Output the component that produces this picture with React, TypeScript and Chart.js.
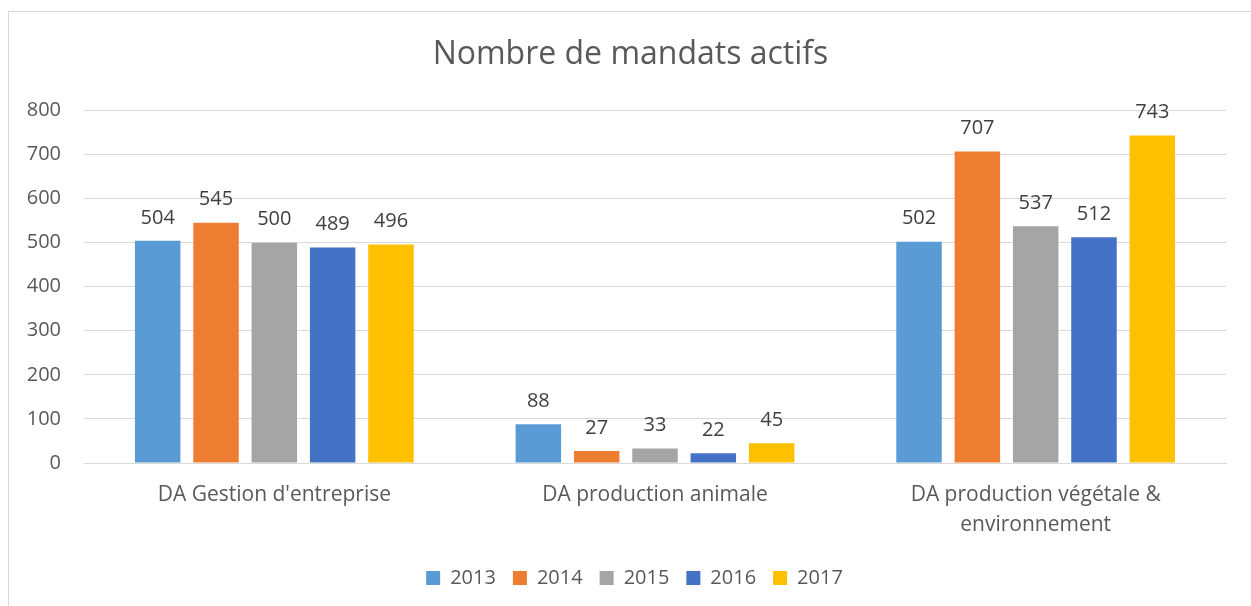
import React, { useEffect, useRef } from "react";
import { Chart, registerables } from "chart.js";

Chart.register(...registerables);

const categories: (string | string[])[] = [
  "DA Gestion d'entreprise",
  "DA production animale",
  ["DA production végétale &", "environnement"],
];
const years = ["2013", "2014", "2015", "2016", "2017"];
const values2013 = [504, 88, 502];
const values2014 = [545, 27, 707];
const values2015 = [500, 33, 537];
const values2016 = [489, 22, 512];
const values2017 = [496, 45, 743];
const seriesValues = [values2013, values2014, values2015, values2016, values2017];
const seriesColors = ["#5B9BD5", "#ED7D31", "#A5A5A5", "#4472C4", "#FFC000"];
const yMin = 0;
const yMax = 800;
const yStep = 100;
const titleText = "Nombre de mandats actifs";

const FONT = "'Open Sans', Lato, sans-serif";

const dataLabelPlugin = {
  id: "dataLabels",
  afterDatasetsDraw(chart: any) {
    const ctx = chart.ctx;
    ctx.save();
    ctx.font = `20px ${FONT}`;
    ctx.fillStyle = "#404040";
    ctx.textAlign = "center";
    ctx.textBaseline = "middle";
    chart.data.datasets.forEach((ds: any, i: number) => {
      const meta = chart.getDatasetMeta(i);
      meta.data.forEach((el: any, j: number) => {
        ctx.fillText(String(ds.data[j]), el.x, el.y - 23);
      });
    });
    ctx.restore();
  },
};

const shiftPlugin = {
  id: "shiftBoxes",
  beforeInit(chart: any) {
    const legend = chart.legend;
    if (legend) {
      const origFit = legend.fit;
      legend.fit = function () {
        origFit.call(this);
        this.height = 55;
      };
    }
  },
  afterLayout(chart: any) {
    const dl = 17;
    if (chart.legend) {
      chart.legend.left += dl;
      chart.legend.right += dl;
    }
    const dt = 13;
    if (chart.titleBlock) {
      chart.titleBlock.left += dt;
      chart.titleBlock.right += dt;
    }
  },
};

export default function App() {
  const ref = useRef<HTMLCanvasElement | null>(null);

  useEffect(() => {
    if (!ref.current) return;
    Chart.defaults.font.family = FONT;
    const chart = new Chart(ref.current, {
      type: "bar",
      data: {
        labels: categories,
        datasets: years.map((y, i) => ({
          label: y,
          data: seriesValues[i],
          backgroundColor: seriesColors[i],
          borderWidth: 0,
          barPercentage: 0.78,
          categoryPercentage: 0.766,
        })),
      },
      options: {
        responsive: false,
        animation: false,
        layout: { padding: { left: 0, right: 25, top: 0, bottom: 0 } },
        plugins: {
          title: {
            display: true,
            text: titleText,
            color: "#595959",
            font: { size: 32, weight: "normal", family: FONT },
            padding: { top: 24, bottom: 36 },
          },
          legend: {
            position: "bottom",
            labels: {
              color: "#595959",
              font: { size: 20, family: FONT },
              boxWidth: 14,
              boxHeight: 14,
              padding: 17,
            },
          },
          tooltip: { enabled: false },
        },
        scales: {
          x: {
            grid: { display: false, drawTicks: false },
            border: { display: true, color: "#d9d9d9" },
            ticks: {
              color: "#595959",
              font: { size: 21, family: FONT, lineHeight: 1.43 },
              padding: 17,
              maxRotation: 0,
              autoSkip: false,
            },
            afterFit(scale: any) {
              scale.height = 88;
            },
          },
          y: {
            min: yMin,
            max: yMax,
            grid: { color: "#d9d9d9", drawTicks: false },
            border: { display: false },
            ticks: {
              stepSize: yStep,
              color: "#595959",
              font: { size: 20, family: FONT },
              padding: 23,
            },
            afterFit(scale: any) {
              scale.width = 75;
            },
          },
        },
      },
      plugins: [dataLabelPlugin, shiftPlugin],
    });
    return () => chart.destroy();
  }, []);

  return (
    <div
      style={{
        position: "fixed",
        left: 8,
        top: 11,
        width: 1243,
        height: 595,
        boxSizing: "border-box",
        borderTop: "1px solid #d9d9d9",
        borderLeft: "1px solid #d9d9d9",
        background: "#fff",
        overflow: "hidden",
      }}
    >
      <canvas ref={ref} width={1242} height={594} style={{ display: "block" }} />
    </div>
  );
}
